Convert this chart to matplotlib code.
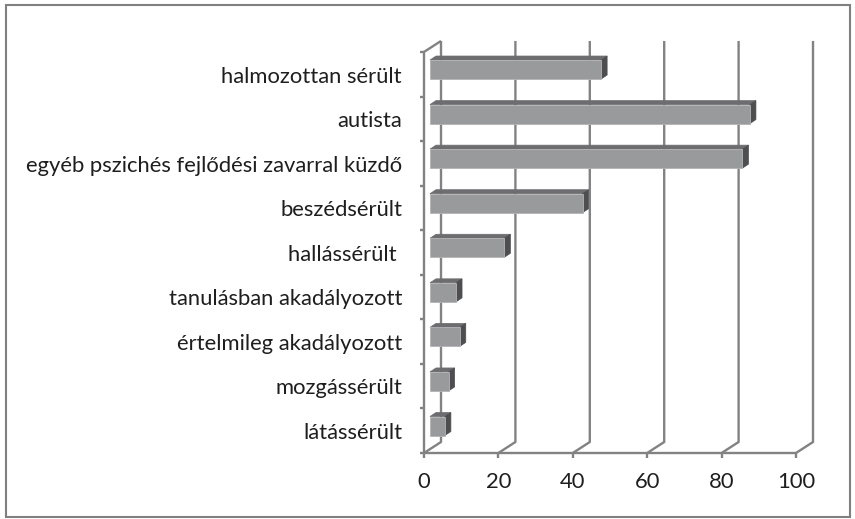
#!/usr/bin/env python3
"""
3D-style horizontal bar chart (Excel look) of pupil categories.
"""

import matplotlib
matplotlib.use("Agg")
import matplotlib.pyplot as plt
from matplotlib.patches import Polygon, Rectangle

# data, bottom to top
categories = [
    "látássérült",
    "mozgássérült",
    "értelmileg akadályozott",
    "tanulásban akadályozott",
    "hallássérült ",
    "beszédsérült",
    "egyéb pszichés fejlődési zavarral küzdő",
    "autista",
    "halmozottan sérült",
]
values = [4, 5, 8, 7, 20, 41, 84, 86, 46]
x_ticks = [0, 20, 40, 60, 80, 100]

W, H = 855, 519
PX_PER_UNIT = 3.72      # horizontal pixels per value unit
PX_PER_CAT = 44.56      # vertical pixels per category

# 3D geometry (in data units)
DX = 17 / PX_PER_UNIT    # depth offset of back wall
DY = 11 / PX_PER_CAT
BAR_X0 = 6 / PX_PER_UNIT
BAR_H = 19 / PX_PER_CAT
BAR_DX = 6 / PX_PER_UNIT
BAR_DY = 4 / PX_PER_CAT
YBOT = -27 / PX_PER_CAT
YTOP_FRONT = YBOT + len(categories)
YTOP = YTOP_FRONT + DY

GRID = "#828282"
TEXT = "#1e1e1e"
FRONT = "#999a9c"
TOP = "#6d6d6f"
SIDE = "#4e4e50"
FS = 15.8

plt.rcParams["font.family"] = ["Lato", "DejaVu Sans"]

fig = plt.figure(figsize=(W / 100, H / 100), dpi=100)
left_px, right_px = 424, 813
bot_px, top_px = 453, 453 - (YTOP - YBOT) * PX_PER_CAT
ax = fig.add_axes([left_px / W, (H - bot_px) / H,
                   (right_px - left_px) / W, (bot_px - top_px) / H])
ax.set_xlim(0, (right_px - left_px) / PX_PER_UNIT)
ax.set_ylim(YBOT, YTOP)
ax.axis("off")

line_kw = dict(color=GRID, lw=1.7, clip_on=False, solid_capstyle="butt")

# back wall gridlines with floor diagonals and front ticks
for v in x_ticks:
    ax.plot([v, v + DX, v + DX], [YBOT, YBOT + DY, YTOP], zorder=1, **line_kw)
    ax.plot([v, v], [YBOT, YBOT - 5 / PX_PER_CAT], zorder=1, **line_kw)
    ax.text(v, YBOT - 29 / PX_PER_CAT, str(v), ha="center", va="center",
            fontsize=FS, color=TEXT)

# front axes
ax.plot([0, x_ticks[-1]], [YBOT, YBOT], zorder=1, **line_kw)
ax.plot([0, 0, DX], [YBOT, YTOP_FRONT, YTOP], zorder=1, **line_kw)
for k in range(len(categories) + 1):
    y = YBOT + k
    ax.plot([0, -4 / PX_PER_UNIT], [y, y], zorder=1, **line_kw)

# bars: front face, top face, side face
ys = list(range(len(categories)))
ax.barh(ys, values, left=BAR_X0, height=BAR_H, color=FRONT,
        edgecolor="#b4b4b6", linewidth=0.6, zorder=3)
for y, v in zip(ys, values):
    yt, yb = y + BAR_H / 2, y - BAR_H / 2
    x1 = BAR_X0 + v
    top = Polygon([(BAR_X0, yt), (x1, yt), (x1 + BAR_DX, yt + BAR_DY),
                   (BAR_X0 + BAR_DX, yt + BAR_DY)], closed=True,
                  facecolor=TOP, edgecolor=TOP, lw=0.5, zorder=2.5)
    side = Polygon([(x1, yb), (x1 + BAR_DX, yb + BAR_DY),
                    (x1 + BAR_DX, yt + BAR_DY), (x1, yt)], closed=True,
                   facecolor=SIDE, edgecolor=SIDE, lw=0.5, zorder=2.6)
    ax.add_patch(top)
    ax.add_patch(side)
    ax.text(-22 / PX_PER_UNIT, y - 7 / PX_PER_CAT, categories[y],
            ha="right", va="center", fontsize=FS, color=TEXT)

# outer chart border
fig.patches.append(Rectangle((6 / W, (H - 517) / H), 844 / W, 512 / H,
                             transform=fig.transFigure, fill=False,
                             edgecolor="#808080", lw=1.5))

plt.savefig("out.png", dpi=100)
plt.close()
